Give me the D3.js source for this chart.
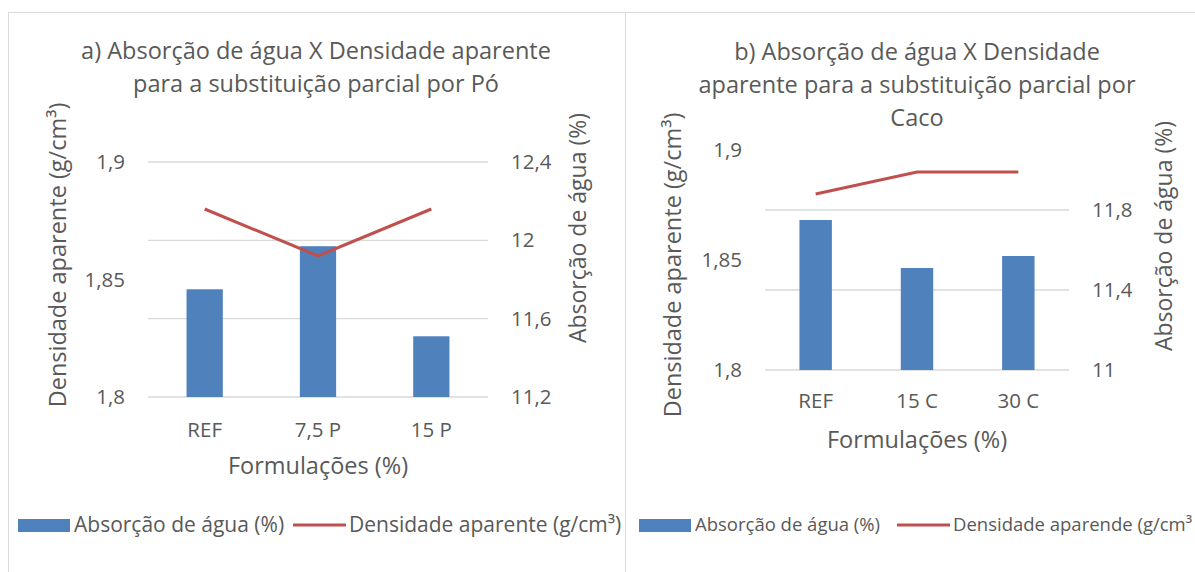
<!DOCTYPE html>
<html>
<head>
<meta charset="utf-8">
<script src="https://cdn.jsdelivr.net/npm/d3@7"></script>
<style>
  body { margin: 0; background: #fff; }
  svg text { font-family: "Open Sans", "Noto Sans", sans-serif; fill: #595959; }
</style>
</head>
<body>
<div id="chart"></div>
<script>
// chart a) - substituicao por Po
const catsA = ["REF", "7,5 P", "15 P"];
const absorcaoA = [11.75, 11.97, 11.51];
const densidadeA = [1.88, 1.86, 1.88];
const densTicksA = [1.8, 1.85, 1.9];
const absTicksA = [11.2, 11.6, 12, 12.4];

// chart b) - substituicao por Caco
const catsB = ["REF", "15 C", "30 C"];
const absorcaoB = [11.75, 11.51, 11.57];
const densidadeB = [1.88, 1.89, 1.89];
const densTicksB = [1.8, 1.85, 1.9];
const absTicksB = [11, 11.4, 11.8];

const fmt = d3.formatLocale({decimal: ",", thousands: ".", grouping: [3], currency: ["", ""]}).format("~g");

const W = 1195, H = 572;
const svg = d3.select("#chart").append("svg")
  .attr("width", W)
  .attr("height", H);

// panel borders
svg.append("rect").attr("x", 8.5).attr("y", 12.5).attr("width", 617).attr("height", 600)
  .attr("fill", "none").attr("stroke", "#d9d9d9");
svg.append("rect").attr("x", 625.5).attr("y", 12.5).attr("width", 600).attr("height", 600)
  .attr("fill", "none").attr("stroke", "#d9d9d9");

function drawChart(cfg) {
  const g = svg.append("g");

  const x = d3.scaleBand().domain(cfg.cats).range([cfg.left, cfg.right])
    .paddingInner(0.68).paddingOuter(0.34);
  const yDens = d3.scaleLinear().domain(cfg.densDomain).range([cfg.bottom, cfg.top]);
  const yAbs = d3.scaleLinear().domain(cfg.absDomain).range([cfg.bottom, cfg.top]);

  // gridlines (from the absorption axis)
  g.selectAll("line.grid").data(cfg.absTicks).enter().append("line")
    .attr("class", "grid")
    .attr("x1", cfg.left).attr("x2", cfg.right)
    .attr("y1", d => yAbs(d)).attr("y2", d => yAbs(d))
    .attr("stroke", "#d9d9d9").attr("stroke-width", 1.3);

  // bars
  g.selectAll("rect.bar").data(cfg.abs).enter().append("rect")
    .attr("class", "bar")
    .attr("x", (d, i) => x(cfg.cats[i]))
    .attr("width", x.bandwidth())
    .attr("y", d => yAbs(d))
    .attr("height", d => cfg.bottom - yAbs(d))
    .attr("fill", "#4f81bd");

  // line
  const line = d3.line()
    .x((d, i) => x(cfg.cats[i]) + x.bandwidth() / 2)
    .y(d => yDens(d));
  g.append("path").datum(cfg.dens)
    .attr("d", line)
    .attr("fill", "none")
    .attr("stroke", "#c0504d")
    .attr("stroke-width", 3);

  // axes
  const axL = g.append("g").attr("transform", `translate(${cfg.left},0)`)
    .call(d3.axisLeft(yDens).tickValues(cfg.densTicks).tickFormat(fmt).tickSize(0).tickPadding(23));
  const axR = g.append("g").attr("transform", `translate(${cfg.right},0)`)
    .call(d3.axisRight(yAbs).tickValues(cfg.absTicks).tickFormat(fmt).tickSize(0).tickPadding(23));
  const axB = g.append("g").attr("transform", `translate(0,${cfg.bottom})`)
    .call(d3.axisBottom(x).tickSize(0).tickPadding(cfg.xPad));
  [axL, axR, axB].forEach(a => {
    a.select(".domain").remove();
    a.selectAll("text").attr("fill", "#595959").style("font-size", "20.5px")
      .style("font-family", "'Open Sans', sans-serif");
  });

  // titles
  const t = g.append("text").attr("text-anchor", "middle").style("font-size", "23.5px");
  cfg.title.forEach((s, i) => {
    t.append("tspan").attr("x", cfg.titleX).attr("y", cfg.titleY + i * 33).text(s);
  });

  g.append("text").attr("text-anchor", "middle").style("font-size", "23.5px")
    .attr("x", (cfg.left + cfg.right) / 2).attr("y", cfg.xTitleY)
    .text("Formulações (%)");

  g.append("text").attr("text-anchor", "middle").style("font-size", "23.5px")
    .attr("transform", `translate(${cfg.yLTitle[0]},${cfg.yLTitle[1]}) rotate(-90)`)
    .attr("dy", "0.35em")
    .text("Densidade aparente (g/cm³)");
  g.append("text").attr("text-anchor", "middle").style("font-size", "23px")
    .attr("transform", `translate(${cfg.yRTitle[0]},${cfg.yRTitle[1]}) rotate(-90)`)
    .attr("dy", "0.35em")
    .text("Absorção de água (%)");

  // legend
  const lg = cfg.legend;
  g.append("rect").attr("x", lg.rectX).attr("y", 519).attr("width", 52).attr("height", 13)
    .attr("fill", "#4f81bd");
  g.append("text").attr("x", lg.rectX + 56).attr("y", 525).attr("dy", "0.35em")
    .style("font-size", lg.size).text("Absorção de água (%)");
  g.append("line").attr("x1", lg.lineX).attr("x2", lg.lineX + 53).attr("y1", 525).attr("y2", 525)
    .attr("stroke", "#c0504d").attr("stroke-width", 3);
  g.append("text").attr("x", lg.lineX + 56).attr("y", 525).attr("dy", "0.35em")
    .style("font-size", lg.size).text(lg.lineLabel);
}

drawChart({
  cats: catsA, abs: absorcaoA, dens: densidadeA,
  densTicks: densTicksA, absTicks: absTicksA,
  densDomain: [1.8, 1.9], absDomain: [11.2, 12.4],
  left: 148, right: 488, top: 162, bottom: 397, xPad: 25,
  title: ["a) Absorção de água X Densidade aparente", "para a substituição parcial por Pó"],
  titleX: 316, titleY: 59, xTitleY: 474,
  yLTitle: [58, 255], yRTitle: [578, 228],
  legend: {rectX: 18, lineX: 293, size: "21px", lineLabel: "Densidade aparente (g/cm³)"}
});

drawChart({
  cats: catsB, abs: absorcaoB, dens: densidadeB,
  densTicks: densTicksB, absTicks: absTicksB,
  densDomain: [1.8, 1.9], absDomain: [11, 12.1],
  left: 765, right: 1069, top: 150, bottom: 370, xPad: 23,
  title: ["b) Absorção de água X Densidade", "aparente para a substituição parcial por", "Caco"],
  titleX: 917, titleY: 60, xTitleY: 448,
  yLTitle: [673, 265], yRTitle: [1164, 236],
  legend: {rectX: 639, lineX: 897, size: "18.5px", lineLabel: "Densidade aparende (g/cm³"}
});
</script>
</body>
</html>
